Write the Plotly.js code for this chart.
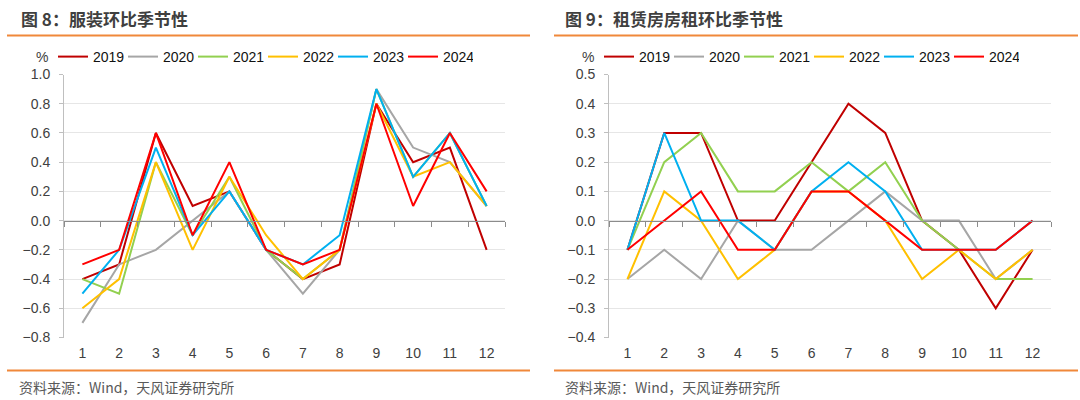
<!DOCTYPE html>
<html><head><meta charset="utf-8">
<script src="https://cdn.plot.ly/plotly-3.0.1.min.js"></script>
<style>html,body{margin:0;padding:0;background:#fff}#chart{width:1080px;height:400px}</style>
</head><body><div id="chart"></div>
<script>
const months = [1,2,3,4,5,6,7,8,9,10,11,12];
const years = ['2019','2020','2021','2022','2023','2024'];
const colors = ['#C00000','#A6A6A6','#92D050','#FFC000','#00B0F0','#FF0000'];

// 图8 服装环比季节性 (%)
const apparel2019 = [-0.4,-0.3,0.6,0.1,0.2,-0.2,-0.4,-0.3,0.8,0.4,0.5,-0.2];
const apparel2020 = [-0.7,-0.3,-0.2,0.0,0.2,-0.2,-0.5,-0.2,0.9,0.5,0.4,0.1];
const apparel2021 = [-0.4,-0.5,0.4,-0.1,0.3,-0.2,-0.4,-0.2,0.9,0.3,0.6,0.1];
const apparel2022 = [-0.6,-0.4,0.4,-0.2,0.3,-0.1,-0.4,-0.2,0.8,0.3,0.4,0.1];
const apparel2023 = [-0.5,-0.2,0.5,-0.1,0.2,-0.2,-0.3,-0.1,0.9,0.3,0.6,0.1];
const apparel2024 = [-0.3,-0.2,0.6,-0.1,0.4,-0.2,-0.3,-0.2,0.8,0.1,0.6,0.2];

// 图9 租赁房房租环比季节性 (%)
const rent2019 = [-0.1,0.3,0.3,0.0,0.0,0.2,0.4,0.3,0.0,-0.1,-0.3,-0.1];
const rent2020 = [-0.2,-0.1,-0.2,0.0,-0.1,-0.1,0.0,0.1,0.0,0.0,-0.2,-0.1];
const rent2021 = [-0.1,0.2,0.3,0.1,0.1,0.2,0.1,0.2,0.0,-0.1,-0.2,-0.2];
const rent2022 = [-0.2,0.1,0.0,-0.2,-0.1,0.1,0.1,0.0,-0.2,-0.1,-0.2,-0.1];
const rent2023 = [-0.1,0.3,0.0,0.0,-0.1,0.1,0.2,0.1,-0.1,-0.1,-0.1,0.0];
const rent2024 = [-0.1,0.0,0.1,-0.1,-0.1,0.1,0.1,0.0,-0.1,-0.1,-0.1,0.0];

const apparel = [apparel2019,apparel2020,apparel2021,apparel2022,apparel2023,apparel2024];
const rent = [rent2019,rent2020,rent2021,rent2022,rent2023,rent2024];

const title1 = '图 8：服装环比季节性';
const title2 = '图 9：租赁房房租环比季节性';
const source = '资料来源：Wind，天风证券研究所';
const unit = '%';

const traces = [];
years.forEach((y,i)=>{
  traces.push({type:'scatter',mode:'lines',x:months,y:apparel[i],name:y,
    line:{color:colors[i],width:2},xaxis:'x',yaxis:'y',legend:'legend',hoverinfo:'skip'});
});
years.forEach((y,i)=>{
  traces.push({type:'scatter',mode:'lines',x:months,y:rent[i],name:y,
    line:{color:colors[i],width:2},xaxis:'x2',yaxis:'y2',legend:'legend2',hoverinfo:'skip'});
});

const W=1080,H=400;
const px = v=>v/W, py = v=>1-v/H;
const tickFont = {family:'Liberation Sans, Arial, sans-serif',size:14,color:'#404040'};
const xd1=[px(64),px(505)], xd2=[px(609),px(1051)];
const yd=[py(337.5),py(74.5)];
const zeroPos = py(220.6);
const boundaries = [0.5,1.5,2.5,3.5,4.5,5.5,6.5,7.5,8.5,9.5,10.5,11.5,12.5];

// x axis: line drawn at y=0 with ticks between months; labels pushed down to the bottom
function xAx(dom){return {domain:dom,anchor:'free',position:zeroPos,range:[0.5,12.5],
  tickmode:'array',tickvals:months,ticktext:months.map(String),ticks:'',
  minor:{tickmode:'array',tickvals:boundaries,ticks:'outside',ticklen:5,tickcolor:'#8C8C8C',tickwidth:1,showgrid:false},
  showgrid:false,zeroline:false,showline:true,linecolor:'#8C8C8C',linewidth:1,
  tickfont:tickFont,ticklabelstandoff:120,fixedrange:true};}
function yAx(dom,anchor,rng,dt){return {domain:dom,anchor:anchor,range:rng,dtick:dt,tick0:0,tickformat:'.1f',
  showgrid:true,gridcolor:'#E6E6E6',gridwidth:1,zeroline:false,showline:true,linecolor:'#BFBFBF',linewidth:1,
  ticks:'outside',ticklen:4,tickcolor:'#BFBFBF',tickfont:tickFont,ticklabelstandoff:6,fixedrange:true};}

const legendCommon = {orientation:'h',yanchor:'middle',y:py(57),xanchor:'left',
  font:{family:'Liberation Sans, Arial, sans-serif',size:14,color:'#111111'},
  bgcolor:'rgba(0,0,0,0)',borderwidth:0,entrywidthmode:'pixels',entrywidth:25,tracegroupgap:0,itemclick:false};

const orange='#F0883A';
const layout = {
  width:W,height:H,margin:{l:0,r:0,t:0,b:0},paper_bgcolor:'#fff',plot_bgcolor:'rgba(0,0,0,0)',
  showlegend:true,
  xaxis:xAx(xd1), yaxis:yAx(yd,'x',[-0.8,1.0],0.2),
  xaxis2:xAx(xd2), yaxis2:yAx(yd,'x2',[-0.4,0.5],0.1),
  legend:Object.assign({},legendCommon,{x:px(53)}),
  legend2:Object.assign({},legendCommon,{x:px(599)}),
  shapes:[
    {type:'line',xref:'paper',yref:'paper',x0:px(7),x1:px(530),y0:py(35.5),y1:py(35.5),line:{color:orange,width:2}},
    {type:'line',xref:'paper',yref:'paper',x0:px(554),x1:px(1078),y0:py(35.5),y1:py(35.5),line:{color:orange,width:2}},
    {type:'line',xref:'paper',yref:'paper',x0:px(7),x1:px(530),y0:py(370.5),y1:py(370.5),line:{color:orange,width:2}},
    {type:'line',xref:'paper',yref:'paper',x0:px(554),x1:px(1078),y0:py(370.5),y1:py(370.5),line:{color:orange,width:2}}
  ],
  annotations:[
    {text:'<b>'+title1+'</b>',xref:'paper',yref:'paper',x:px(19),y:py(18),xanchor:'left',yanchor:'middle',showarrow:false,
      font:{family:'Noto Sans CJK SC, sans-serif',size:17,color:'#3F3F3F'}},
    {text:'<b>'+title2+'</b>',xref:'paper',yref:'paper',x:px(563),y:py(18),xanchor:'left',yanchor:'middle',showarrow:false,
      font:{family:'Noto Sans CJK SC, sans-serif',size:17,color:'#3F3F3F'}},
    {text:unit,xref:'paper',yref:'paper',x:px(42),y:py(57),xanchor:'center',yanchor:'middle',showarrow:false,font:tickFont},
    {text:unit,xref:'paper',yref:'paper',x:px(588),y:py(57),xanchor:'center',yanchor:'middle',showarrow:false,font:tickFont},
    {text:source,xref:'paper',yref:'paper',x:px(17),y:py(387),xanchor:'left',yanchor:'middle',showarrow:false,
      font:{family:'Noto Sans CJK SC, sans-serif',size:14,color:'#595959'}},
    {text:source,xref:'paper',yref:'paper',x:px(563),y:py(387),xanchor:'left',yanchor:'middle',showarrow:false,
      font:{family:'Noto Sans CJK SC, sans-serif',size:14,color:'#595959'}}
  ]
};
Plotly.newPlot('chart',traces,layout,{staticPlot:true,displayModeBar:false});
</script></body></html>
